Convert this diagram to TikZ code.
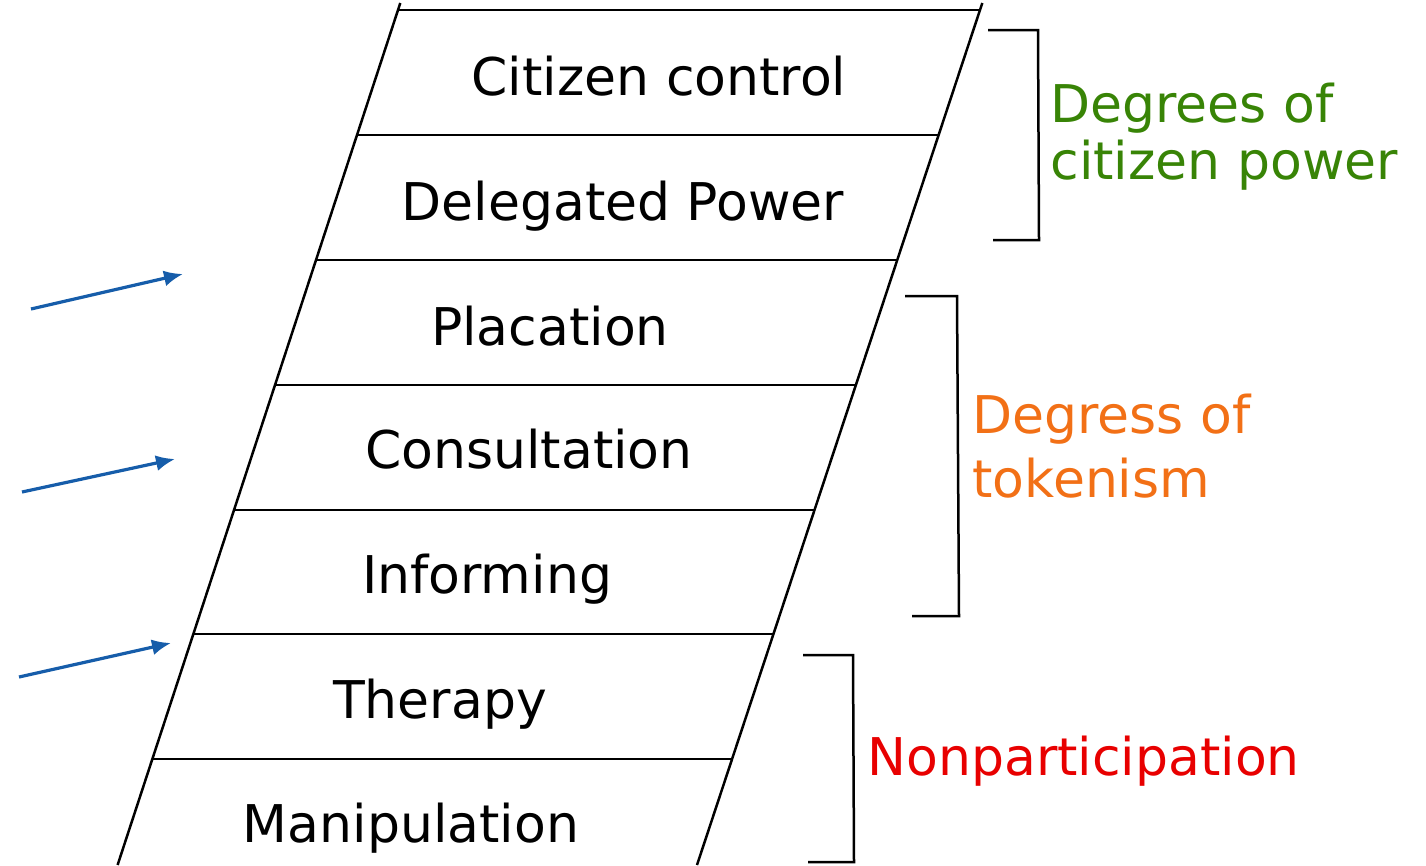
\documentclass[tikz,border=0pt]{standalone}
\usepackage{fontspec}
\setmainfont{DejaVu Sans}
\usepackage{xcolor}
\usetikzlibrary{arrows.meta}

\definecolor{arrowblue}{RGB}{22,93,170}
\definecolor{powergreen}{RGB}{56,132,6}
\definecolor{tokenorange}{RGB}{242,112,22}
\definecolor{nonred}{RGB}{232,0,0}

\tikzset{
  rail/.style={line width=2.5pt, black},
  bracket/.style={line width=2.5pt, black},
  pointer/.style={line width=3.2pt, arrowblue, -{Latex[length=19pt,width=16pt]}},
  rung/.style={anchor=base, font=\fontsize{52}{58}\selectfont},
  group/.style={anchor=base west, align=left},
}

\begin{document}
\begin{tikzpicture}[x=1pt, y=-1pt]
    \useasboundingbox (0,0) rectangle (1426,865);
    % ladder
    \draw[rail] (400.3,3) -- (117.6,865);
    \draw[rail] (982.3,3) -- (697,865);
    \foreach \y in {10,135,260,385,510,634,759}
      \draw[rail] ({398-0.328*(\y-10)},\y) -- ({980-0.331*(\y-10)},\y);
    \node[rung] (citizen)   at (659,95)  {Citizen control};
    \node[rung] (delegated) at (623,220) {Delegated Power};
    \node[rung] (placation) at (550,345) {Placation};
    \node[rung] (consult)   at (529,468) {Consultation};
    \node[rung] (inform)    at (487,593) {Informing};
    \node[rung] (therapy)   at (440,718) {Therapy};
    \node[rung] (manip)     at (411,842) {Manipulation};
    % brackets
    \draw[bracket] (988,30) -- (1038,30) -- (1039,240) -- (993,240);
    \draw[bracket] (905,296) -- (957,296) -- (959,616) -- (912,616);
    \draw[bracket] (803,655) -- (853,655) -- (854,862) -- (808,862);
    \node[group, text=powergreen, font=\fontsize{52}{57}\selectfont] (power) at (1047,179)
      {Degrees of\\citizen power};
    \node[group, text=tokenorange, font=\fontsize{52}{64}\selectfont] (token) at (969,497)
      {Degress of\\tokenism};
    \node[group, text=nonred, font=\fontsize{52}{58}\selectfont] (nonpart) at (864,775)
      {Nonparticipation};
    % pointers
    \coordinate (p1) at (31,309);  \coordinate (q1) at (183,274);
    \coordinate (p2) at (22,492);  \coordinate (q2) at (175,459);
    \coordinate (p3) at (19,677);  \coordinate (q3) at (171,643);
    \draw[pointer] (p1) -- (q1);
    \draw[pointer] (p2) -- (q2);
    \draw[pointer] (p3) -- (q3);
\end{tikzpicture}
\end{document}
